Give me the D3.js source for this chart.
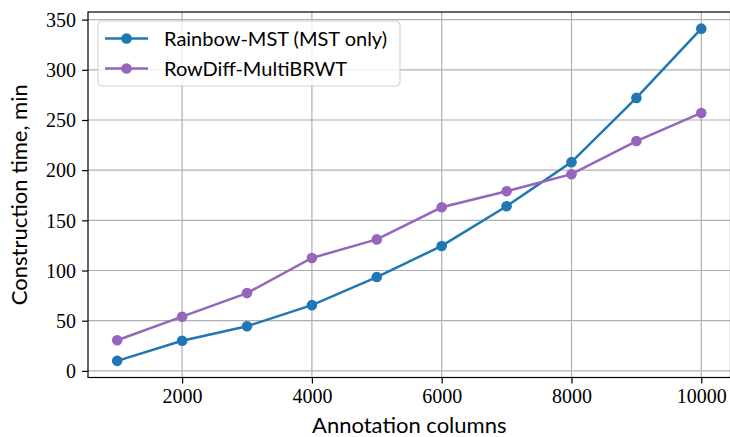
<!DOCTYPE html>
<html>
<head>
<meta charset="utf-8">
<script src="https://cdn.jsdelivr.net/npm/d3@7"></script>
<style>
body { margin: 0; background: #fff; }
</style>
</head>
<body>
<svg width="730" height="437"></svg>
<script>
var columns = [1000, 2000, 3000, 4000, 5000, 6000, 7000, 8000, 9000, 10000];
var rainbowMst = [10, 30, 44.5, 65.5, 93.5, 124.5, 164, 208, 272, 341];
var rowDiff = [30.5, 54, 77.5, 112.5, 131, 163, 179, 196, 229, 257];
var seriesNames = ["Rainbow-MST (MST only)", "RowDiff-MultiBRWT"];
var xTicks = [2000, 4000, 6000, 8000, 10000];
var yTicks = [0, 50, 100, 150, 200, 250, 300, 350];

var svg = d3.select("svg"),
  plotLeft = 88, plotRight = 730.5, plotTop = 12, plotBottom = 377.5;

var x = d3.scaleLinear().domain([550, 10450]).range([plotLeft, plotRight]);
var y = d3.scaleLinear().domain([-6.6, 357.6]).range([plotBottom, plotTop]);

var serif = "'Liberation Serif', 'DejaVu Serif', serif";
var sans = "Lato, 'Noto Sans', sans-serif";

// grid
svg.append("g").selectAll("line").data(xTicks).enter().append("line")
  .attr("x1", d => x(d)).attr("x2", d => x(d))
  .attr("y1", plotTop).attr("y2", plotBottom)
  .attr("stroke", "#b0b0b0").attr("stroke-width", 1.2);
svg.append("g").selectAll("line").data(yTicks).enter().append("line")
  .attr("x1", plotLeft).attr("x2", plotRight)
  .attr("y1", d => y(d)).attr("y2", d => y(d))
  .attr("stroke", "#b0b0b0").attr("stroke-width", 1.2);

// axes
var xAxis = svg.append("g")
  .attr("transform", "translate(0," + plotBottom + ")")
  .call(d3.axisBottom(x).tickValues(xTicks).tickFormat(d3.format("d")).tickSize(6).tickPadding(5));
var yAxis = svg.append("g")
  .attr("transform", "translate(" + plotLeft + ",0)")
  .call(d3.axisLeft(y).tickValues(yTicks).tickFormat(d3.format("d")).tickSize(6).tickPadding(6));
[xAxis, yAxis].forEach(function (a) {
  a.select(".domain").remove();
  a.selectAll("line").attr("stroke", "#000").attr("stroke-width", 1.2);
  a.selectAll("text").attr("fill", "#000").style("font-family", serif).style("font-size", "20px");
});
yAxis.selectAll("text").attr("dy", "0.34em");

// spines
svg.append("rect")
  .attr("x", plotLeft).attr("y", plotTop)
  .attr("width", plotRight - plotLeft).attr("height", plotBottom - plotTop)
  .attr("fill", "none").attr("stroke", "#000").attr("stroke-width", 1.2);

// series
var series = [
  { name: seriesNames[0], values: rainbowMst, color: "#1f77b4" },
  { name: seriesNames[1], values: rowDiff, color: "#9467bd" }
];
var line = d3.line().x((d, i) => x(columns[i])).y(d => y(d));
series.forEach(function (s) {
  svg.append("path").datum(s.values)
    .attr("d", line).attr("fill", "none")
    .attr("stroke", s.color).attr("stroke-width", 2.5);
  svg.append("g").selectAll("circle").data(s.values).enter().append("circle")
    .attr("cx", (d, i) => x(columns[i])).attr("cy", d => y(d))
    .attr("r", 5.3).attr("fill", s.color);
});

// legend
var legend = svg.append("g");
legend.append("rect")
  .attr("x", 98).attr("y", 21).attr("width", 302).attr("height", 65)
  .attr("rx", 4).attr("fill", "#fff").attr("fill-opacity", 0.8)
  .attr("stroke", "#d0d0d0").attr("stroke-width", 1);
series.forEach(function (s, i) {
  var yy = 38.5 + i * 30;
  legend.append("line").attr("x1", 105).attr("x2", 148).attr("y1", yy).attr("y2", yy)
    .attr("stroke", s.color).attr("stroke-width", 2.5);
  legend.append("circle").attr("cx", 126.5).attr("cy", yy).attr("r", 5.3).attr("fill", s.color);
  legend.append("text").attr("x", 164).attr("y", yy).attr("dy", "0.35em")
    .style("font-family", sans).style("font-size", "20px").attr("fill", "#000")
    .text(s.name);
});

// axis labels
svg.append("text").attr("x", (plotLeft + plotRight) / 2).attr("y", 433)
  .attr("text-anchor", "middle").style("font-family", sans).style("font-size", "22px")
  .text("Annotation columns");
svg.append("text").attr("transform", "translate(27," + (plotTop + plotBottom) / 2 + ") rotate(-90)")
  .attr("text-anchor", "middle").style("font-family", sans).style("font-size", "22px")
  .text("Construction time, min");
</script>
</body>
</html>
